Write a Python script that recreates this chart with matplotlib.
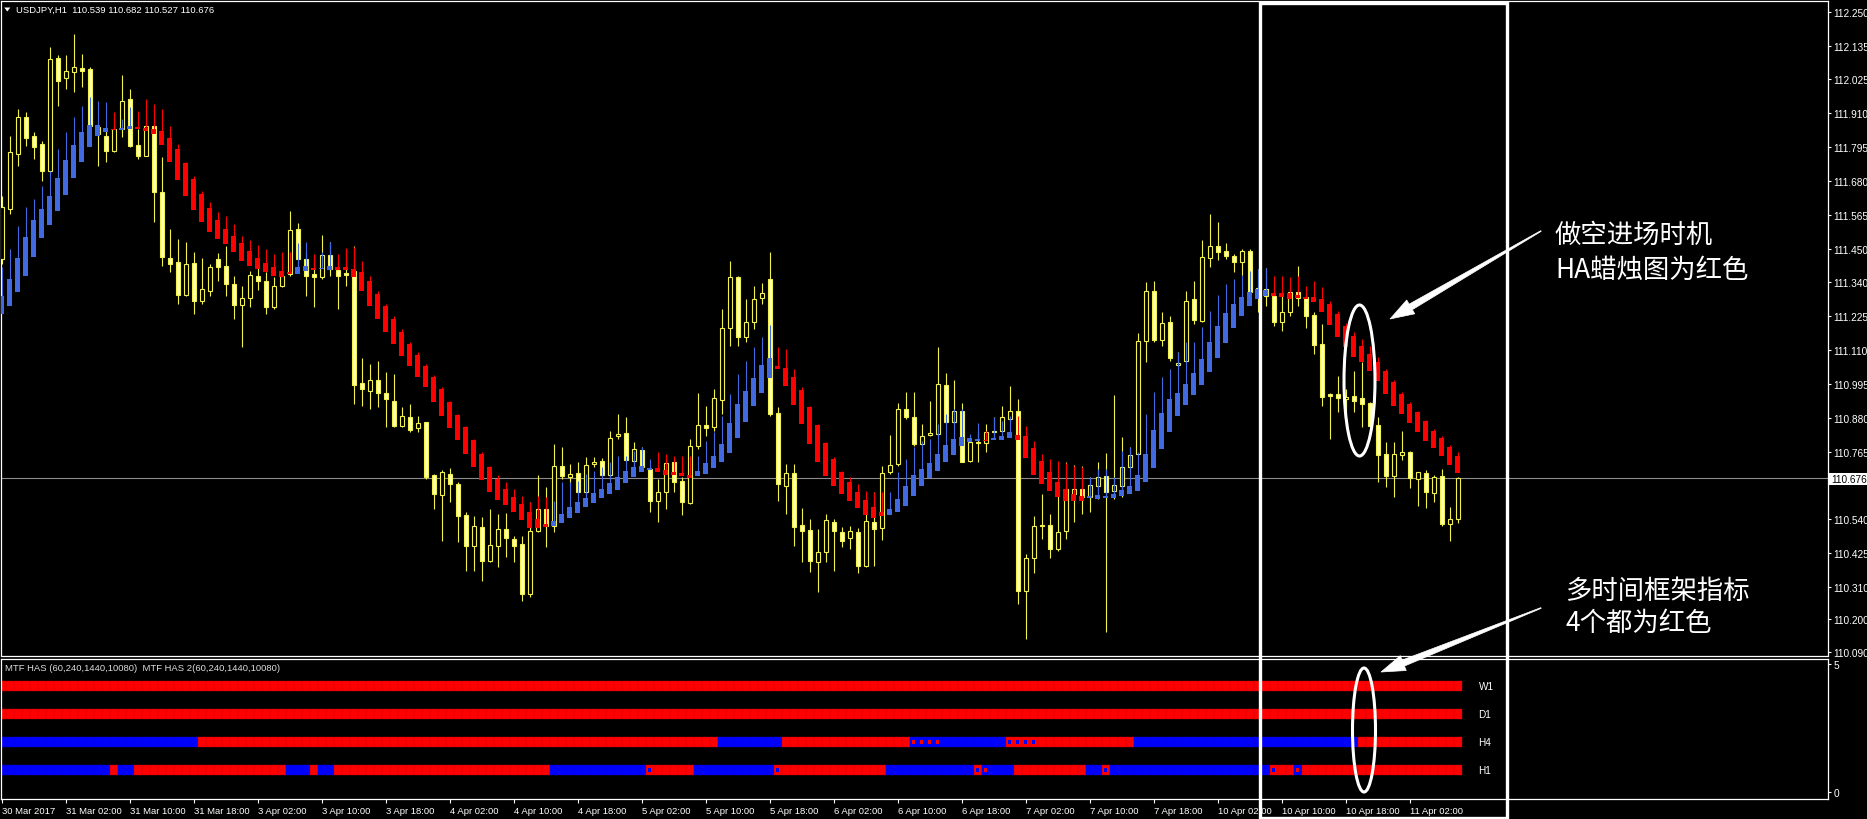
import numpy as np
import matplotlib
matplotlib.use("Agg")
import matplotlib.pyplot as plt
from matplotlib.patches import Rectangle, Ellipse, Polygon
from matplotlib.transforms import Affine2D

# ---------------- data ----------------
symbol_title = "USDJPY,H1  110.539 110.682 110.527 110.676"
indicator_title = "MTF HAS (60,240,1440,10080)  MTF HAS 2(60,240,1440,10080)"
last_price = 110.676

tick_labels = ["30 Mar 2017", "31 Mar 02:00", "31 Mar 10:00", "31 Mar 18:00", "3 Apr 02:00",
               "3 Apr 10:00", "3 Apr 18:00", "4 Apr 02:00", "4 Apr 10:00", "4 Apr 18:00",
               "5 Apr 02:00", "5 Apr 10:00", "5 Apr 18:00", "6 Apr 02:00", "6 Apr 10:00",
               "6 Apr 18:00", "7 Apr 02:00", "7 Apr 10:00", "7 Apr 18:00", "10 Apr 02:00",
               "10 Apr 10:00", "10 Apr 18:00", "11 Apr 02:00"]
price_ticks = [112.250, 112.135, 112.025, 111.910, 111.795, 111.680, 111.565, 111.450, 111.340,
               111.225, 111.110, 110.995, 110.880, 110.765, 110.540, 110.425, 110.310, 110.200, 110.090]

open_ = [111.417, 111.585, 111.771, 111.895, 111.833, 111.805, 111.715, 112.094, 112.026, 112.046,
         112.060, 112.058, 111.861, 111.833, 111.782, 111.855, 111.957, 111.801, 111.765, 111.867,
         111.641, 111.419, 111.405, 111.295, 111.402, 111.276, 111.310, 111.417, 111.394, 111.332,
         111.261, 111.284, 111.360, 111.343, 111.253, 111.327, 111.366, 111.518, 111.417, 111.366,
         111.355, 111.430, 111.380, 111.369, 111.377, 110.998, 110.972, 111.009, 110.964, 110.938,
         110.854, 110.884, 110.845, 110.865, 110.688, 110.620, 110.691, 110.657, 110.553, 110.449,
         110.511, 110.398, 110.449, 110.505, 110.472, 110.455, 110.286, 110.500, 110.573, 110.517,
         110.717, 110.680, 110.694, 110.629, 110.724, 110.734, 110.688, 110.818, 110.828, 110.736,
         110.772, 110.708, 110.601, 110.631, 110.730, 110.668, 110.593, 110.784, 110.856, 110.848,
         110.942, 111.183, 111.355, 111.152, 111.205, 111.284, 111.349, 110.897, 110.651, 110.694,
         110.519, 110.503, 110.395, 110.429, 110.530, 110.496, 110.474, 110.494, 110.379, 110.528,
         110.508, 110.697, 110.725, 110.910, 110.882, 110.792, 110.823, 110.826, 110.991, 110.865,
         110.905, 110.736, 110.800, 110.796, 110.837, 110.837, 110.877, 110.905, 110.297, 110.406,
         110.519, 110.519, 110.438, 110.500, 110.623, 110.640, 110.612, 110.651, 110.683, 110.635,
         110.651, 110.713, 110.758, 111.141, 111.310, 111.144, 111.203, 111.059, 111.073, 111.282,
         111.208, 111.419, 111.462, 111.444, 111.428, 111.408, 111.445, 111.302, 111.315, 111.293,
         111.203, 111.237, 111.304, 111.287, 111.227, 111.130, 110.961, 110.961, 110.944, 110.955,
         110.946, 110.930, 110.856, 110.758, 110.683, 110.755, 110.766, 110.674, 110.694, 110.627,
         110.683, 110.522, 110.539]
high = [111.630, 111.833, 111.923, 111.912, 111.844, 111.816, 112.131, 112.105, 112.105, 112.176,
        112.108, 112.063, 111.867, 111.861, 111.867, 112.037, 111.990, 111.855, 111.869, 111.869,
        111.760, 111.518, 111.484, 111.475, 111.439, 111.419, 111.400, 111.436, 111.462, 111.360,
        111.327, 111.377, 111.388, 111.371, 111.355, 111.371, 111.580, 111.538, 111.439, 111.428,
        111.497, 111.473, 111.405, 111.450, 111.462, 111.081, 111.062, 111.073, 111.034, 111.028,
        110.916, 110.927, 110.888, 110.867, 110.691, 110.706, 110.710, 110.663, 110.562, 110.550,
        110.545, 110.573, 110.556, 110.559, 110.483, 110.483, 110.595, 110.688, 110.646, 110.792,
        110.781, 110.725, 110.730, 110.747, 110.747, 110.744, 110.837, 110.893, 110.884, 110.798,
        110.781, 110.713, 110.674, 110.742, 110.736, 110.680, 110.809, 110.963, 110.921, 110.978,
        111.248, 111.411, 111.360, 111.281, 111.326, 111.334, 111.441, 110.916, 110.725, 110.725,
        110.575, 110.539, 110.505, 110.556, 110.539, 110.511, 110.517, 110.508, 110.595, 110.629,
        110.719, 110.823, 110.930, 110.966, 110.966, 110.860, 110.938, 111.118, 111.032, 111.009,
        110.930, 110.811, 110.837, 110.860, 110.882, 110.921, 110.987, 110.944, 110.421, 110.548,
        110.623, 110.556, 110.629, 110.730, 110.721, 110.719, 110.680, 110.730, 110.762, 110.957,
        110.815, 110.781, 111.167, 111.338, 111.343, 111.239, 111.225, 111.104, 111.310, 111.343,
        111.482, 111.568, 111.543, 111.470, 111.433, 111.450, 111.450, 111.383, 111.385, 111.298,
        111.298, 111.310, 111.394, 111.298, 111.236, 111.197, 110.964, 111.020, 110.978, 111.040,
        111.068, 110.933, 110.882, 110.800, 110.798, 110.837, 110.770, 110.699, 110.705, 110.688,
        110.708, 110.578, 110.682]
low = [111.400, 111.568, 111.732, 111.799, 111.754, 111.681, 111.703, 111.934, 111.990, 111.979,
       111.996, 111.855, 111.732, 111.743, 111.777, 111.827, 111.793, 111.754, 111.763, 111.542,
       111.394, 111.372, 111.265, 111.291, 111.231, 111.265, 111.293, 111.343, 111.293, 111.214,
       111.118, 111.253, 111.313, 111.231, 111.248, 111.321, 111.360, 111.388, 111.293, 111.253,
       111.349, 111.360, 111.248, 111.327, 110.927, 110.921, 110.910, 110.916, 110.848, 110.848,
       110.848, 110.834, 110.832, 110.674, 110.573, 110.466, 110.595, 110.460, 110.365, 110.365,
       110.331, 110.393, 110.376, 110.410, 110.393, 110.263, 110.275, 110.494, 110.443, 110.494,
       110.674, 110.651, 110.623, 110.618, 110.713, 110.683, 110.680, 110.809, 110.736, 110.708,
       110.708, 110.564, 110.530, 110.573, 110.629, 110.553, 110.590, 110.775, 110.820, 110.837,
       110.893, 111.124, 111.122, 111.135, 111.180, 111.265, 110.888, 110.601, 110.556, 110.449,
       110.395, 110.359, 110.291, 110.395, 110.365, 110.443, 110.438, 110.357, 110.376, 110.381,
       110.469, 110.691, 110.719, 110.877, 110.787, 110.787, 110.820, 110.820, 110.860, 110.860,
       110.730, 110.733, 110.730, 110.764, 110.809, 110.832, 110.865, 110.252, 110.134, 110.357,
       110.471, 110.406, 110.432, 110.471, 110.528, 110.556, 110.564, 110.606, 110.158, 110.606,
       110.612, 110.708, 110.755, 111.068, 111.137, 111.124, 111.073, 111.045, 111.068, 111.197,
       111.203, 111.388, 111.414, 111.417, 111.372, 111.360, 111.293, 111.237, 111.259, 111.192,
       111.175, 111.225, 111.259, 111.183, 111.096, 110.922, 110.809, 110.901, 110.852, 110.901,
       110.848, 110.848, 110.663, 110.646, 110.612, 110.739, 110.643, 110.582, 110.575, 110.597,
       110.514, 110.466, 110.527]
close = [111.591, 111.777, 111.895, 111.824, 111.796, 111.715, 112.092, 112.018, 112.052, 112.063,
         112.052, 111.867, 111.838, 111.782, 111.855, 111.951, 111.799, 111.763, 111.867, 111.644,
         111.422, 111.400, 111.295, 111.400, 111.276, 111.315, 111.388, 111.388, 111.332, 111.261,
         111.284, 111.362, 111.343, 111.253, 111.327, 111.360, 111.516, 111.417, 111.360, 111.355,
         111.430, 111.383, 111.360, 111.364, 110.991, 110.978, 111.009, 110.964, 110.944, 110.854,
         110.888, 110.839, 110.863, 110.680, 110.623, 110.697, 110.657, 110.550, 110.449, 110.517,
         110.398, 110.451, 110.505, 110.474, 110.449, 110.286, 110.500, 110.573, 110.517, 110.719,
         110.683, 110.691, 110.629, 110.721, 110.730, 110.688, 110.811, 110.826, 110.739, 110.775,
         110.713, 110.601, 110.629, 110.728, 110.665, 110.595, 110.784, 110.856, 110.845, 110.946,
         111.183, 111.355, 111.152, 111.205, 111.281, 111.301, 110.893, 110.657, 110.694, 110.511,
         110.500, 110.398, 110.429, 110.534, 110.500, 110.466, 110.500, 110.379, 110.533, 110.505,
         110.694, 110.721, 110.910, 110.882, 110.792, 110.818, 110.829, 110.995, 110.865, 110.905,
         110.733, 110.800, 110.796, 110.834, 110.834, 110.882, 110.905, 110.297, 110.406, 110.517,
         110.514, 110.438, 110.496, 110.640, 110.640, 110.612, 110.654, 110.680, 110.631, 110.654,
         110.713, 110.755, 111.141, 111.310, 111.144, 111.201, 111.082, 111.066, 111.274, 111.212,
         111.422, 111.462, 111.441, 111.426, 111.405, 111.445, 111.304, 111.318, 111.293, 111.203,
         111.237, 111.304, 111.284, 111.225, 111.126, 110.952, 110.953, 110.946, 110.952, 110.938,
         110.927, 110.854, 110.755, 110.683, 110.758, 110.766, 110.676, 110.696, 110.629, 110.680,
         110.522, 110.539, 110.676]

ha_open = [111.231, 111.259, 111.304, 111.360, 111.424, 111.486, 111.532, 111.580, 111.634, 111.690,
           111.745, 111.793, 111.830, 111.846, 111.855, 111.853, 111.855, 111.862, 111.859, 111.855,
           111.847, 111.825, 111.788, 111.739, 111.686, 111.637, 111.589, 111.548, 111.518, 111.493,
           111.470, 111.442, 111.419, 111.403, 111.391, 111.376, 111.372, 111.366, 111.377, 111.385,
           111.382, 111.380, 111.388, 111.388, 111.383, 111.371, 111.343, 111.298, 111.257, 111.214,
           111.171, 111.130, 111.093, 111.056, 111.019, 110.978, 110.933, 110.890, 110.848, 110.806,
           110.758, 110.713, 110.674, 110.640, 110.612, 110.590, 110.564, 110.539, 110.522, 110.517,
           110.525, 110.541, 110.559, 110.578, 110.593, 110.609, 110.623, 110.638, 110.660, 110.680,
           110.697, 110.705, 110.711, 110.705, 110.699, 110.694, 110.688, 110.683, 110.691, 110.710,
           110.730, 110.762, 110.811, 110.867, 110.919, 110.964, 111.014, 111.054, 111.047, 111.017,
           110.975, 110.916, 110.856, 110.796, 110.741, 110.699, 110.663, 110.629, 110.604, 110.578,
           110.562, 110.554, 110.562, 110.584, 110.618, 110.651, 110.676, 110.702, 110.730, 110.755,
           110.784, 110.800, 110.801, 110.807, 110.807, 110.807, 110.811, 110.822, 110.818, 110.777,
           110.736, 110.699, 110.665, 110.640, 110.623, 110.615, 110.609, 110.606, 110.611, 110.611,
           110.618, 110.623, 110.635, 110.663, 110.710, 110.775, 110.832, 110.885, 110.924, 110.957,
           110.991, 111.036, 111.081, 111.133, 111.183, 111.223, 111.257, 111.282, 111.291, 111.301,
           111.302, 111.302, 111.295, 111.289, 111.289, 111.282, 111.265, 111.231, 111.192, 111.158,
           111.124, 111.096, 111.068, 111.040, 111.000, 110.961, 110.927, 110.899, 110.869, 110.837,
           110.811, 110.783, 110.753]
ha_close = [111.293, 111.349, 111.419, 111.490, 111.548, 111.585, 111.628, 111.689, 111.751, 111.801,
            111.844, 111.869, 111.869, 111.859, 111.852, 111.859, 111.864, 111.856, 111.850, 111.838,
            111.802, 111.743, 111.684, 111.630, 111.583, 111.540, 111.506, 111.484, 111.467, 111.441,
            111.411, 111.394, 111.383, 111.374, 111.358, 111.355, 111.365, 111.388, 111.392, 111.381,
            111.385, 111.392, 111.380, 111.380, 111.357, 111.310, 111.257, 111.214, 111.169, 111.130,
            111.088, 111.054, 111.019, 110.983, 110.935, 110.885, 110.845, 110.807, 110.758, 110.713,
            110.671, 110.631, 110.604, 110.586, 110.564, 110.537, 110.508, 110.508, 110.513, 110.533,
            110.556, 110.578, 110.597, 110.609, 110.626, 110.640, 110.659, 110.680, 110.702, 110.713,
            110.719, 110.711, 110.697, 110.688, 110.688, 110.683, 110.676, 110.702, 110.728, 110.753,
            110.792, 110.863, 110.927, 110.972, 111.014, 111.059, 111.081, 111.045, 110.989, 110.924,
            110.860, 110.792, 110.733, 110.685, 110.651, 110.623, 110.601, 110.575, 110.553, 110.541,
            110.550, 110.573, 110.606, 110.649, 110.688, 110.708, 110.728, 110.758, 110.789, 110.809,
            110.817, 110.811, 110.809, 110.802, 110.813, 110.820, 110.831, 110.807, 110.744, 110.688,
            110.657, 110.635, 110.612, 110.601, 110.601, 110.601, 110.618, 110.620, 110.618, 110.623,
            110.638, 110.651, 110.688, 110.758, 110.840, 110.897, 110.944, 110.964, 110.995, 111.032,
            111.079, 111.137, 111.192, 111.234, 111.265, 111.287, 111.306, 111.315, 111.313, 111.293,
            111.289, 111.282, 111.284, 111.282, 111.270, 111.239, 111.194, 111.152, 111.118, 111.087,
            111.068, 111.040, 111.004, 110.961, 110.919, 110.893, 110.863, 110.834, 110.803, 110.777,
            110.750, 110.721, 110.694]
ha_high = [111.388, 111.450, 111.529, 111.591, 111.619, 111.664, 111.715, 111.788, 111.844, 111.895,
           111.932, 111.962, 111.951, 111.947, 111.912, 111.889, 111.928, 111.917, 111.957, 111.940,
           111.923, 111.867, 111.805, 111.743, 111.698, 111.647, 111.608, 111.576, 111.560, 111.535,
           111.495, 111.482, 111.464, 111.450, 111.433, 111.441, 111.439, 111.471, 111.473, 111.433,
           111.439, 111.473, 111.433, 111.452, 111.458, 111.411, 111.360, 111.310, 111.265, 111.225,
           111.180, 111.138, 111.101, 111.062, 111.025, 110.983, 110.938, 110.893, 110.854, 110.809,
           110.764, 110.719, 110.688, 110.665, 110.640, 110.618, 110.595, 110.618, 110.612, 110.601,
           110.663, 110.663, 110.668, 110.691, 110.702, 110.713, 110.730, 110.753, 110.753, 110.770,
           110.781, 110.742, 110.764, 110.758, 110.753, 110.750, 110.753, 110.753, 110.803, 110.831,
           110.888, 110.961, 111.028, 111.073, 111.118, 111.152, 111.194, 111.118, 111.113, 111.045,
           110.983, 110.921, 110.860, 110.800, 110.747, 110.702, 110.680, 110.657, 110.635, 110.629,
           110.631, 110.629, 110.696, 110.741, 110.781, 110.803, 110.809, 110.860, 110.893, 110.910,
           110.910, 110.826, 110.863, 110.837, 110.882, 110.871, 110.888, 110.888, 110.854, 110.803,
           110.758, 110.741, 110.736, 110.728, 110.719, 110.713, 110.680, 110.708, 110.708, 110.680,
           110.770, 110.781, 110.764, 110.893, 110.966, 111.017, 111.045, 111.101, 111.135, 111.137,
           111.186, 111.242, 111.295, 111.332, 111.349, 111.363, 111.377, 111.383, 111.385, 111.360,
           111.360, 111.355, 111.360, 111.326, 111.343, 111.321, 111.276, 111.242, 111.201, 111.171,
           111.147, 111.124, 111.085, 111.045, 111.009, 110.966, 110.933, 110.905, 110.874, 110.843,
           110.820, 110.789, 110.764]

# MTF rows: run lengths (colour, bars) for the two overlaid indicators
row_names = ["W1", "D1", "H4", "H1"]
w1_main = [("R", 183)]
w1_second = [("R", 183)]
d1_main = [("R", 183)]
d1_second = [("R", 183)]
h4_main = [("B", 25), ("R", 65), ("B", 8), ("R", 16), ("B", 12), ("R", 16), ("B", 28), ("R", 13)]
h4_second = [("B", 25), ("R", 65), ("B", 8), ("R", 20), ("B", 12), ("R", 12), ("B", 28), ("R", 13)]
h1_main = [("B", 14), ("R", 1), ("B", 2), ("R", 19), ("B", 3), ("R", 1), ("B", 2), ("R", 27),
           ("B", 12), ("R", 6), ("B", 10), ("R", 14), ("B", 11), ("R", 1), ("B", 4), ("R", 9),
           ("B", 2), ("R", 1), ("B", 20), ("R", 3), ("B", 1), ("R", 20)]
h1_second = [("B", 14), ("R", 1), ("B", 2), ("R", 19), ("B", 3), ("R", 1), ("B", 2), ("R", 27),
             ("B", 13), ("R", 5), ("B", 11), ("R", 13), ("B", 12), ("R", 1), ("B", 3), ("R", 9),
             ("B", 24), ("R", 23)]

# ---------------- styling ----------------
W, H = 1867, 820
plt.rcParams["font.family"] = ["Liberation Sans", "DejaVu Sans"]
CJK = ["Noto Sans CJK SC", "DejaVu Sans"]
WICK = "#F2F24A"
FILL = "#FFFFB4"
HA_BLUE = "#4169E1"
HA_RED = "#FF0000"
ROW_RED = "#FF0000"
ROW_BLUE = "#0000FF"

fig = plt.figure(figsize=(W / 100, H / 100), dpi=100, facecolor="black")
px = Affine2D().scale(1 / W, -1 / H).translate(0, 1) + fig.transFigure


def rect(l, t, r, b):
    return [l / W, 1 - b / H, (r - l) / W, (b - t) / H]


ax = fig.add_axes(rect(0.5, 2, 1828, 656.5))
ax2 = fig.add_axes(rect(0.5, 659.5, 1828, 800))

n = len(open_)
x = np.arange(n)
o, hi, lo, c = (np.array(v) for v in (open_, high, low, close))
xlim = (-0.15, 228.29)

for a in (ax, ax2):
    a.set_facecolor("black")
    for s in a.spines.values():
        s.set_color("white")
        s.set_linewidth(0.9)
    a.set_xlim(*xlim)

# current price line
ax.axhline(last_price, color="#8C8C8C", lw=0.8, zorder=1)

# price candles
bull = c >= o
ax.vlines(x, lo, hi, colors=WICK, lw=0.8, zorder=2)
ax.bar(x[bull], (c - o)[bull], bottom=o[bull], width=0.5, facecolor="black",
       edgecolor=WICK, linewidth=0.8, zorder=3)
ax.bar(x[~bull], (o - c)[~bull], bottom=c[~bull], width=0.5, facecolor=FILL,
       edgecolor=WICK, linewidth=0.8, zorder=3)

# heiken ashi candles
ho, hc, hh = np.array(ha_open), np.array(ha_close), np.array(ha_high)
hcol = np.where(hc >= ho, HA_BLUE, HA_RED)
top = np.maximum(ho, hc)
bot = np.minimum(ho, hc)
ax.vlines(x, top, hh, colors=hcol, lw=0.8, zorder=4)
ax.bar(x, np.maximum(top - bot, 0.004), bottom=bot, width=0.62, color=hcol, linewidth=0, zorder=5)

ax.set_ylim(110.0783, 112.2873)
ax.set_xticks([])
ax.yaxis.tick_right()
ax.set_yticks(price_ticks)
ax.set_yticklabels([f"{v:.3f}" for v in price_ticks])
ax.tick_params(axis="y", colors="white", labelcolor="white", length=2.5, width=0.8,
               labelsize=7.3, pad=1.5)

# ---------------- MTF panel ----------------
def expand(runs):
    return [col for col, k in runs for _ in range(k)]


levels = [4.14, 3.05, 1.95, 0.86]
rows = [(w1_main, w1_second), (d1_main, d1_second), (h4_main, h4_second), (h1_main, h1_second)]
cmap = {"R": ROW_RED, "B": ROW_BLUE}
for lev, name, (m, s) in zip(levels, row_names, rows):
    cm = expand(m)
    cs = expand(s)
    xs = np.arange(len(cm))
    ax2.bar(xs, 0.37, bottom=lev - 0.185, width=1.0, color=[cmap[k] for k in cm],
            edgecolor=[("#C80000" if k == "R" else "#0000C8") for k in cm], linewidth=0.25)
    diff = [i for i in range(len(cm)) if cm[i] != cs[i]]
    if diff:
        ax2.bar(diff, 0.16, bottom=lev - 0.08, width=0.45,
                color=[cmap[cs[i]] for i in diff], linewidth=0, zorder=3)
    ax2.text(len(cm) + 1.6, lev, name, color="white", fontsize=7.2, va="center", ha="left")

ax2.set_ylim(-0.273, 5.215)
ax2.yaxis.tick_right()
ax2.set_yticks([5, 0])
ax2.set_yticklabels(["5", "0"])
ax2.set_xticks(np.arange(len(tick_labels)) * 8)
ax2.set_xticklabels(tick_labels, ha="left")
ax2.tick_params(axis="y", colors="white", labelcolor="white", length=2.5, width=0.8,
                labelsize=7.3, pad=1.5)
ax2.tick_params(axis="x", colors="white", labelcolor="white", length=3, width=0.8,
                labelsize=6.8, pad=2)

# ---------------- texts & annotations ----------------
fig.text(16, 10.5, symbol_title, transform=px, color="white", fontsize=6.8, va="center")
fig.patches.append(Polygon([(4.3, 8.5), (10.3, 8.5), (7.3, 12.5)], closed=True,
                           facecolor="white", edgecolor="none", transform=px))
fig.text(5, 668.5, indicator_title, transform=px, color="#DDDDDD", fontsize=6.8, va="center")

# last price box
fig.patches.append(Rectangle((1829, 474), 38, 12, facecolor="white", edgecolor="none",
                             transform=px, zorder=5))
fig.text(1831, 480, f"{last_price:.3f}", transform=px, color="black", fontsize=7.3,
         va="center", zorder=6)

# white frame
fig.patches.append(Rectangle((1260, 3.5), 247, 815, fill=False, edgecolor="white",
                             linewidth=2.4, transform=px, zorder=10))

# ellipses
fig.patches.append(Ellipse((1359.5, 381.5), 31, 151, fill=False, edgecolor="white",
                           linewidth=2.2, transform=px, zorder=10))
fig.patches.append(Ellipse((1364, 731), 23, 124, fill=False, edgecolor="white",
                           linewidth=2.2, transform=px, zorder=10))


def arrow(tail, tip, head_len=24, head_w=8, shaft_w=3.2, tail_w=0.4):
    tail = np.array(tail, float)
    tip = np.array(tip, float)
    d = tip - tail
    u = d / np.hypot(*d)
    nrm = np.array([-u[1], u[0]])
    base = tip - u * head_len
    pts = [tail + nrm * tail_w, base + nrm * shaft_w, base + nrm * head_w, tip,
           base - nrm * head_w, base - nrm * shaft_w, tail - nrm * tail_w]
    fig.patches.append(Polygon(pts, closed=True, facecolor="white", edgecolor="white",
                               linewidth=0.5, transform=px, zorder=10))


arrow((1541, 232), (1390, 320))
arrow((1541, 609), (1381, 673))

fig.text(1555, 235, "做空进场时机", transform=px, color="white", fontsize=19,
         family=CJK, fontweight="light", va="center")
fig.text(1555, 270, "HA蜡烛图为红色", transform=px, color="white", fontsize=19,
         family=CJK, fontweight="light", va="center")
fig.text(1565, 591, "多时间框架指标", transform=px, color="white", fontsize=19,
         family=CJK, fontweight="light", va="center")
fig.text(1565, 623, "4个都为红色", transform=px, color="white", fontsize=19,
         family=CJK, fontweight="light", va="center")

fig.savefig("out.png", dpi=100, facecolor="black")
